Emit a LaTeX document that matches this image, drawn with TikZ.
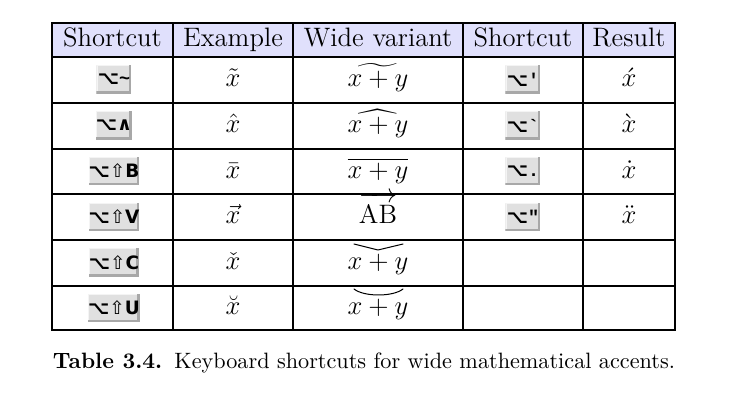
\documentclass[tikz,border=0pt]{standalone}
\usepackage{fontspec}
\usepackage{amsmath}
\usetikzlibrary{calc}
\newfontfamily\keyfont{DejaVu Sans}
\newfontfamily\keymono{Liberation Mono}
\definecolor{headbg}{RGB}{224,224,252}
\definecolor{keyface}{RGB}{224,224,224}
\definecolor{keyshade}{RGB}{168,168,168}
\definecolor{keylight}{RGB}{244,244,244}
\begin{document}
\begin{tikzpicture}[x=0.45pt,y=-0.45pt,
  cell/.style={font=\fontsize{12}{14}\selectfont, inner sep=0pt, anchor=base},
  keycap/.style={fill=keyface, minimum width=15.75pt, minimum height=13pt, inner sep=0pt,
    font=\keyfont\bfseries\fontsize{8.3}{9}\selectfont,
    path picture={
      \fill[keylight] (path picture bounding box.north west) rectangle ([yshift=-0.5pt]path picture bounding box.north east);
      \fill[keylight] (path picture bounding box.north west) rectangle ([xshift=0.5pt]path picture bounding box.south west);
      \fill[keyshade] (path picture bounding box.south west) rectangle ([yshift=1.2pt]path picture bounding box.south east);
      \fill[keyshade] ([xshift=-1.2pt]path picture bounding box.north east) rectangle (path picture bounding box.south east);
    }},
  widekey/.style={keycap, minimum width=20.7pt},
  thinline/.style={line width=0.6pt},
  thickline/.style={line width=1.1pt},
  accentline/.style={line width=0.45pt, line cap=round, line join=round}
]
\useasboundingbox (0,0) rectangle (745,415);
% header background
\fill[headbg] (52,23) rectangle (675,57);
% grid
\foreach \yy in {103,149,194,240,286} \draw[thinline] (52,\yy) -- (675,\yy);
\foreach \xx in {173,293,583} \draw[thinline] (\xx,23) -- (\xx,330);
\draw[thickline] (463,23) -- (463,330);
\draw[thickline] (52,57) -- (675,57);
\draw[thickline] (52,23) rectangle (675,330);
% header (baseline)
\node[cell] (h1) at (112.5,47) {Shortcut};
\node[cell] (h2) at (233,47) {Example};
\node[cell] (h3) at (378,47) {Wide variant};
\node[cell] (h4) at (523,47) {Shortcut};
\node[cell] (h5) at (629,47) {Result};
% column 1 keys
\node[keycap] (k1) at (114,79.5) {⌥{\keymono\bfseries\symbol{"7E}}};
\node[keycap] (k2) at (114,125.5) {⌥∧};
\node[widekey] (k3) at (114,171) {⌥{\mdseries⇧}B};
\node[widekey] (k4) at (114,217) {⌥{\mdseries⇧}V};
\node[widekey] (k5) at (114,262.5) {⌥{\mdseries⇧}C};
\node[widekey] (k6) at (114,308) {⌥{\mdseries⇧}U};
% examples (baseline)
\node[cell] (e1) at (233,87) {$\tilde{x}$};
\node[cell] (e2) at (233,133) {$\hat{x}$};
\node[cell] (e3) at (233,178.5) {$\bar{x}$};
\node[cell] (e4) at (233,224) {$\vec{x}$};
\node[cell] (e5) at (233,270) {$\check{x}$};
\node[cell] (e6) at (233,315) {$\breve{x}$};
% wide variants
\node[cell] (w1) at (378,87) {$\widetilde{x+y}$};
\node[cell] (w2) at (378,133) {$\widehat{x+y}$};
\node[cell] (w3) at (378,178.5) {$\overline{x+y}$};
\node[cell] (w4) at (378,224) {$\overrightarrow{\rule{0pt}{9.8pt}\mathrm{AB}}$};
\node[cell] (w5) at (378,270) {$x+y$};
\node[cell] (w6) at (378,315) {$x+y$};
\draw[accentline] ($(w5.base)+(-24,-26)$) -- ($(w5.base)+(0,-20)$) -- ($(w5.base)+(25,-26)$);
\draw[accentline] ($(w6.base)+(-24,-26)$) .. controls ($(w6.base)+(-14,-18)$) and ($(w6.base)+(15,-18)$) .. ($(w6.base)+(25,-26)$);
% column 4 keys
\node[keycap] (s1) at (523,79.5) {⌥{\keymono\bfseries\symbol{"27}}};
\node[keycap] (s2) at (523,125.5) {⌥{\keymono\bfseries\symbol{"60}}};
\node[keycap] (s3) at (523,171) {⌥{\keymono\bfseries.}};
\node[keycap] (s4) at (523,217) {⌥{\keymono\bfseries\symbol{"22}}};
% results
\node[cell] (r1) at (629,87) {$\acute{x}$};
\node[cell] (r2) at (629,133) {$\grave{x}$};
\node[cell] (r3) at (629,178.5) {$\dot{x}$};
\node[cell] (r4) at (629,224) {$\ddot{x}$};
% caption
\node[font=\fontsize{10}{12}\selectfont, inner sep=0pt, anchor=base] (cap) at (364,369)
  {\textbf{Table 3.4.}\hspace{0.55em}Keyboard shortcuts for wide mathematical accents.};
\end{tikzpicture}
\end{document}
